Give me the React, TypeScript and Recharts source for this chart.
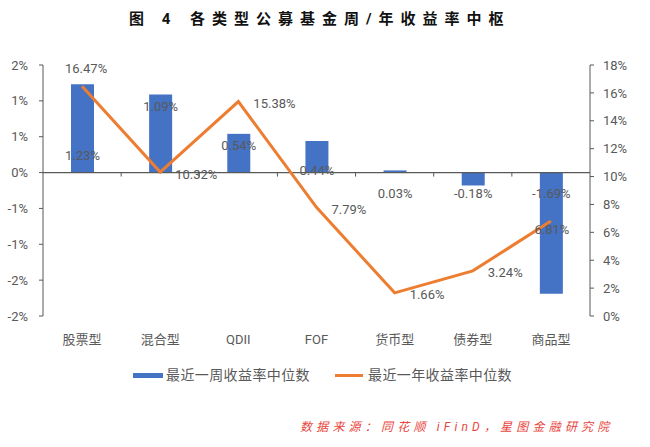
import React from 'react';
import { ComposedChart, Bar, Line, XAxis, YAxis, ReferenceLine, LabelList } from 'recharts';

const categories = ['股票型', '混合型', 'QDII', 'FOF', '货币型', '债券型', '商品型'];
const weekMedian = [1.23, 1.09, 0.54, 0.44, 0.03, -0.18, -1.69];
const yearMedian = [16.47, 10.32, 15.38, 7.79, 1.66, 3.24, 6.81];
const leftTicks = [1.5, 1, 0.5, 0, -0.5, -1, -1.5, -2];
const rightTicks = [0, 2, 4, 6, 8, 10, 12, 14, 16, 18];

// label placement as in the source chart (manually moved in Excel)
const BAR_LABEL_MODE = ['base', 'end', 'end', 'zero', 'below', 'below', 'below'];
const LINE_LABEL_MODE = ['top', 'right', 'right', 'right', 'right', 'right', 'center'];

const FONT = "Roboto, 'Noto Sans CJK SC', sans-serif";
const GREY = '#595959';
const BLUE = '#4472C4';
const ORANGE = '#ED7D31';

const data = categories.map((name, i) => ({ name, week: weekMedian[i], year: yearMedian[i] }));

// Excel style rounding: 0.5 -> 1%, -1.5 -> -2%
const fmtLeft = (v: number) => {
  const r = Math.round(Math.abs(v));
  return r === 0 ? '0%' : `${v < 0 ? '-' : ''}${r}%`;
};

const ZeroAxis = (props: any) => {
  const { x1, y1, x2 } = props;
  const n = categories.length;
  const marks = [];
  for (let i = 1; i < n; i++) {
    const x = x1 + ((x2 - x1) * i) / n;
    marks.push(<line key={i} x1={x} x2={x} y1={y1} y2={y1 + 4} stroke={GREY} strokeWidth={1} />);
  }
  return (
    <g>
      <line x1={x1} x2={x2} y1={y1} y2={y1} stroke={GREY} strokeWidth={1.2} />
      {marks}
    </g>
  );
};

const BarLabel = (props: any) => {
  const vb = props.viewBox || props;
  const x = vb.x ?? props.x;
  const y = vb.y ?? props.y;
  const w = vb.width ?? props.width;
  const h = vb.height ?? props.height;
  const idx = props.index ?? weekMedian.indexOf(props.value);
  const val = weekMedian[idx];
  const a = y, b = y + h;
  const zero = val >= 0 ? Math.max(a, b) : Math.min(a, b);
  const end = val >= 0 ? Math.min(a, b) : Math.max(a, b);
  const mode = BAR_LABEL_MODE[idx];
  let cy = zero;
  if (mode === 'base') cy = zero - 17;
  else if (mode === 'end') cy = end + 12;
  else if (mode === 'zero') cy = zero - 2;
  else cy = zero + 21;
  return (
    <text x={x + w / 2} y={cy} dy="0.35em" textAnchor="middle" fill={GREY} fontSize={13}>
      {val.toFixed(2)}%
    </text>
  );
};

const LineLabel = (props: any) => {
  const x = props.x ?? props.viewBox?.x;
  const y = props.y ?? props.viewBox?.y;
  const idx = props.index ?? yearMedian.indexOf(props.value);
  const val = yearMedian[idx];
  const mode = LINE_LABEL_MODE[idx];
  let tx = x, ty = y, anchor: any = 'middle';
  if (mode === 'top') { tx = x + 4; ty = y - 18; }
  else if (mode === 'right') { tx = x + 15; ty = y + 2; anchor = 'start'; }
  else { tx = x + 1; ty = y + 8; }
  return (
    <text x={tx} y={ty} dy="0.35em" textAnchor={anchor} fill={GREY} fontSize={13}>
      {val.toFixed(2)}%
    </text>
  );
};

export default function App() {
  return (
    <div style={{ position: 'absolute', left: 0, top: 0, width: 650, height: 447, background: '#fff', fontFamily: FONT }}>
      <div style={{ position: 'absolute', left: 129, top: 7, fontSize: 15, fontWeight: 'bold', color: '#111', letterSpacing: 7, whiteSpace: 'pre' }}>
        图 4
      </div>
      <div style={{ position: 'absolute', left: 190, top: 7, fontSize: 15, fontWeight: 'bold', color: '#111', letterSpacing: 7, whiteSpace: 'pre' }}>
        各类型公募基金周/年收益率中枢
      </div>

      <ComposedChart width={650} height={447} data={data} margin={{ top: 65, right: 0, bottom: 101, left: 0 }}>
        <XAxis
          dataKey="name"
          axisLine={false}
          tickLine={false}
          tickSize={0}
          tickMargin={19}
          interval={0}
          height={30}
          tick={{ fill: GREY, fontSize: 13 }}
        />
        <YAxis
          yAxisId="left"
          width={43}
          domain={[-2, 1.5]}
          ticks={leftTicks}
          tickFormatter={fmtLeft}
          axisLine={{ stroke: GREY }}
          tickLine={{ stroke: GREY }}
          tickSize={4}
          tickMargin={11}
          tick={{ fill: GREY, fontSize: 13 }}
        />
        <YAxis
          yAxisId="right"
          orientation="right"
          width={60}
          domain={[0, 18]}
          ticks={rightTicks}
          tickFormatter={(v: number) => `${v}%`}
          axisLine={{ stroke: GREY }}
          tickLine={{ stroke: GREY }}
          tickSize={4}
          tickMargin={9}
          tick={{ fill: GREY, fontSize: 13 }}
        />
        <Bar yAxisId="left" dataKey="week" fill={BLUE} barSize={23} isAnimationActive={false}>
          <LabelList dataKey="week" content={BarLabel} />
        </Bar>
        <ReferenceLine yAxisId="left" y={0} shape={ZeroAxis} />
        <Line
          yAxisId="right"
          dataKey="year"
          type="linear"
          stroke={ORANGE}
          strokeWidth={3}
          dot={false}
          activeDot={false}
          isAnimationActive={false}
        >
          <LabelList dataKey="year" content={LineLabel} />
        </Line>
      </ComposedChart>

      <div style={{ position: 'absolute', left: 133, top: 373, width: 30, height: 5, background: BLUE }} />
      <div style={{ position: 'absolute', left: 166, top: 366, fontSize: 14, color: GREY, lineHeight: '18px', letterSpacing: 0.4 }}>
        最近一周收益率中位数
      </div>
      <div style={{ position: 'absolute', left: 335, top: 374, width: 28, height: 3, background: ORANGE }} />
      <div style={{ position: 'absolute', left: 368, top: 366, fontSize: 14, color: GREY, lineHeight: '18px', letterSpacing: 0.4 }}>
        最近一年收益率中位数
      </div>

      <div style={{ position: 'absolute', left: 300, top: 419, fontSize: 12, color: '#E8453C', fontStyle: 'italic', letterSpacing: 4.2, lineHeight: '16px', whiteSpace: 'pre' }}>
        数据来源：同花顺 iFinD，星图金融研究院
      </div>
    </div>
  );
}
